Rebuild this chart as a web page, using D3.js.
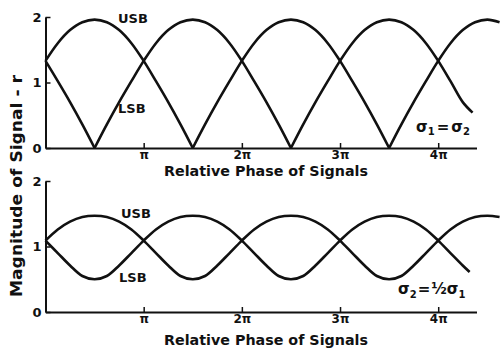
<!DOCTYPE html>
<html>
<head>
<meta charset="utf-8">
<script src="https://cdn.jsdelivr.net/npm/d3@7"></script>
<style>
  body { margin: 0; background: #fff; }
  text { font-family: "DejaVu Sans", sans-serif; font-weight: bold; fill: #111; }
</style>
</head>
<body>
<script>
// phase values are in units of pi
var phases = [0, 0.125, 0.25, 0.375, 0.5, 0.625, 0.75, 0.875, 1, 1.125, 1.25, 1.375, 1.5, 1.625, 1.75, 1.875,
              2, 2.125, 2.25, 2.375, 2.5, 2.625, 2.75, 2.875, 3, 3.125, 3.25, 3.375, 3.5, 3.625, 3.75, 3.875,
              4, 4.125, 4.25, 4.375, 4.5, 4.625];

// top panel, sigma1 = sigma2
var usb_equal = [1.33, 1.60, 1.80, 1.92, 1.96, 1.92, 1.80, 1.60, 1.33, 1.02, 0.70, 0.36, 0, 0.36, 0.70, 1.02,
                 1.33, 1.60, 1.80, 1.92, 1.96, 1.92, 1.80, 1.60, 1.33, 1.02, 0.70, 0.36, 0, 0.36, 0.70, 1.02,
                 1.33, 1.60, 1.80, 1.92, 1.96, 1.92];
var lsb_equal = [1.33, 1.02, 0.70, 0.36, 0, 0.36, 0.70, 1.02, 1.33, 1.60, 1.80, 1.92, 1.96, 1.92, 1.80, 1.60,
                 1.33, 1.02, 0.70, 0.36, 0, 0.36, 0.70, 1.02, 1.33, 1.60, 1.80, 1.92, 1.96, 1.92, 1.80, 1.60,
                 1.33, 1.02, 0.70, 0.54];
var lsb_equal_phases = phases.slice(0, 35).concat([4.35]);

// bottom panel, sigma2 = 1/2 sigma1
var usb_half = [1.09, 1.26, 1.38, 1.45, 1.47, 1.45, 1.38, 1.26, 1.09, 0.90, 0.71, 0.55, 0.50, 0.55, 0.71, 0.90,
                1.09, 1.26, 1.38, 1.45, 1.47, 1.45, 1.38, 1.26, 1.09, 0.90, 0.71, 0.55, 0.50, 0.55, 0.71, 0.90,
                1.09, 1.26, 1.38, 1.45, 1.47, 1.45];
var lsb_half = [1.09, 0.90, 0.71, 0.55, 0.50, 0.55, 0.71, 0.90, 1.09, 1.26, 1.38, 1.45, 1.47, 1.45, 1.38, 1.26,
                1.09, 0.90, 0.71, 0.55, 0.50, 0.55, 0.71, 0.90, 1.09, 1.26, 1.38, 1.45, 1.47, 1.45, 1.38, 1.26,
                1.09, 0.90, 0.71, 0.61];
var lsb_half_phases = phases.slice(0, 35).concat([4.32]);

var x_ticks = [1, 2, 3, 4];
var x_tick_labels = ["π", "2π", "3π", "4π"];
var y_ticks = [0, 1, 2];

var svg = d3.select("body").append("svg")
    .attr("width", 501)
    .attr("height", 353);

var x = d3.scaleLinear().domain([0, 4.39]).range([45.5, 476.5]);

var panels = [
    {y0: 148, y2: 17, usb: usb_equal, lsb: lsb_equal, lsb_ph: lsb_equal_phases, cusps: true,
     usbLabel: [118, 23], lsbLabel: [118, 113], title: 176},
    {y0: 312, y2: 181, usb: usb_half, lsb: lsb_half, lsb_ph: lsb_half_phases, cusps: false,
     usbLabel: [121, 218], lsbLabel: [119, 282], title: 345}
];

// split a series at its zeros so the cusps stay sharp
function arches(ph, vals, split) {
    var pts = ph.map(function(p, i) { return [p, vals[i]]; });
    if (!split) return [pts];
    var out = [], cur = [];
    pts.forEach(function(p) {
        cur.push(p);
        if (p[1] === 0 && cur.length > 1) {
            out.push(cur);
            cur = [p];
        }
    });
    if (cur.length > 1) out.push(cur);
    return out;
}

panels.forEach(function(pn) {
    var y = d3.scaleLinear().domain([0, 2]).range([pn.y0, pn.y2]);
    var g = svg.append("g");

    var line = d3.line()
        .x(function(d) { return x(d[0]); })
        .y(function(d) { return y(d[1]); })
        .curve(d3.curveCatmullRom.alpha(0.5));

    var series = arches(phases, pn.usb, pn.cusps).concat(arches(pn.lsb_ph, pn.lsb, pn.cusps));
    g.selectAll("path.curve").data(series).enter().append("path")
        .attr("class", "curve")
        .attr("d", line)
        .attr("fill", "none")
        .attr("stroke", "#111")
        .attr("stroke-width", 2.6);

    // x axis, ticks pointing up
    var xa = g.append("g")
        .attr("transform", "translate(0," + pn.y0 + ")")
        .call(d3.axisBottom(x).tickValues(x_ticks)
            .tickFormat(function(d, i) { return x_tick_labels[i]; })
            .tickSizeInner(-5).tickSizeOuter(0).tickPadding(2));
    xa.select(".domain").attr("stroke", "#111").attr("stroke-width", 2);
    xa.selectAll(".tick line").attr("stroke", "#111").attr("stroke-width", 1.5);
    xa.selectAll(".tick text").style("font-size", "12px").style("font-family", "DejaVu Sans")
        .style("font-weight", "bold");

    // y axis, ticks pointing right
    var ya = g.append("g")
        .attr("transform", "translate(" + x(0) + ",0)")
        .call(d3.axisLeft(y).tickValues(y_ticks).tickFormat(d3.format("d"))
            .tickSizeInner(-5).tickSizeOuter(0).tickPadding(4));
    ya.select(".domain").attr("stroke", "#111").attr("stroke-width", 2);
    ya.selectAll(".tick line").attr("stroke", "#111").attr("stroke-width", 1.5);
    ya.selectAll(".tick text").style("font-size", "13px").style("font-family", "DejaVu Sans")
        .style("font-weight", "bold");

    g.append("text").attr("x", pn.usbLabel[0]).attr("y", pn.usbLabel[1])
        .style("font-size", "13px").text("USB");
    g.append("text").attr("x", pn.lsbLabel[0]).attr("y", pn.lsbLabel[1])
        .style("font-size", "13px").text("LSB");

    g.append("text").attr("x", 266).attr("y", pn.title)
        .attr("text-anchor", "middle")
        .attr("textLength", 204).attr("lengthAdjust", "spacingAndGlyphs")
        .style("font-size", "14px").text("Relative Phase of Signals");
});

// sigma annotations
var s1 = svg.append("text").attr("x", 416).attr("y", 132).style("font-size", "15px");
s1.append("tspan").text("σ");
s1.append("tspan").attr("dy", 3).style("font-size", "10px").text("1");
s1.append("tspan").attr("dy", -3).attr("dx", 2).text("=");
s1.append("tspan").attr("dx", 2).text("σ");
s1.append("tspan").attr("dy", 3).style("font-size", "10px").text("2");

var s2 = svg.append("text").attr("x", 398).attr("y", 294).style("font-size", "15px");
s2.append("tspan").text("σ");
s2.append("tspan").attr("dy", 4).style("font-size", "10px").text("2");
s2.append("tspan").attr("dy", -4).attr("dx", 1).text("=");
s2.append("tspan").attr("dx", 1).text("½σ");
s2.append("tspan").attr("dy", 4).style("font-size", "10px").text("1");

// y axis title
svg.append("text")
    .attr("transform", "translate(22,186) rotate(-90)")
    .attr("text-anchor", "middle")
    .attr("textLength", 222).attr("lengthAdjust", "spacingAndGlyphs")
    .style("font-size", "15px")
    .text("Magnitude of Signal - r");
</script>
</body>
</html>
